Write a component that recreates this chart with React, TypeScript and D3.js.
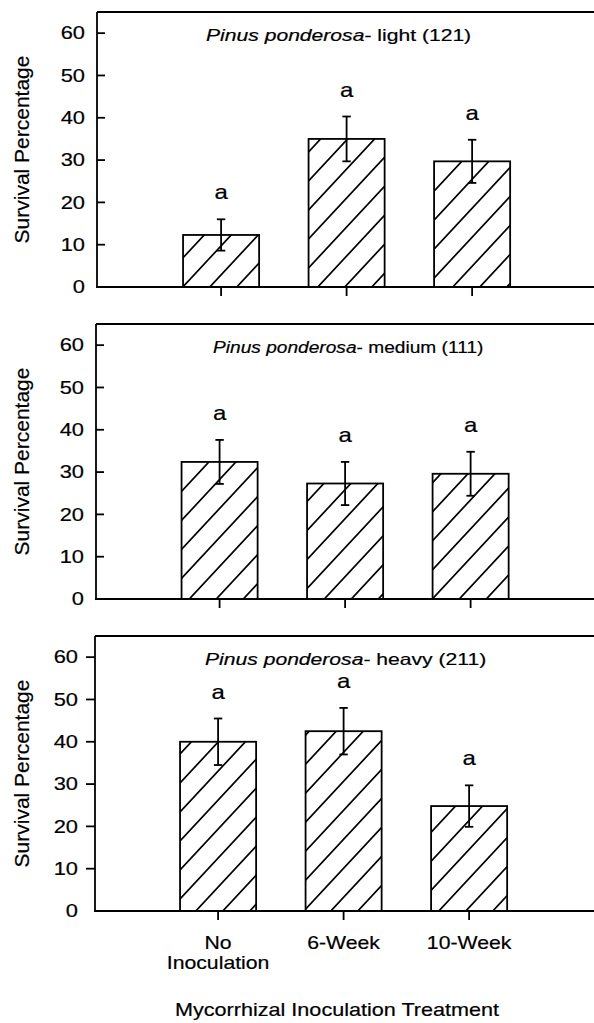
import React from "react";
import * as d3 from "d3";

// ---- data ----
const categories = ["No Inoculation", "6-Week", "10-Week"];
const categoryLines = [["No", "Inoculation"], ["6-Week"], ["10-Week"]];
const speciesName = "Pinus ponderosa";
const densityLabels = ["light (121)", "medium (111)", "heavy (211)"];
const lightMeans = [12.3, 35.0, 29.7];
const lightErrors = [3.7, 5.3, 5.1];
const mediumMeans = [32.4, 27.3, 29.6];
const mediumErrors = [5.2, 5.1, 5.2];
const heavyMeans = [40.0, 42.5, 24.8];
const heavyErrors = [5.5, 5.5, 4.9];
const lightLetters = ["a", "a", "a"];
const mediumLetters = ["a", "a", "a"];
const heavyLetters = ["a", "a", "a"];
const yTicks = [0, 10, 20, 30, 40, 50, 60];
const yMax = 65;
const yTitle = "Survival Percentage";
const xTitle = "Mycorrhizal Inoculation Treatment";

const panelMeans = [lightMeans, mediumMeans, heavyMeans];
const panelErrors = [lightErrors, mediumErrors, heavyErrors];
const panelLetters = [lightLetters, mediumLetters, heavyLetters];

// ---- layout ----
const W = 594;
const H = 1023;
const FONT = "'Liberation Sans', Arial, Helvetica, sans-serif";
const panelBase = [287, 599, 911];
const panelLeft = [97, 96, 95];
const panelShift = [0, -1.5, -3];
const tickInward = [true, true, false];
const titleStart = [206, 213, 205];
const titleScale = [1.28, 1.16, 1.28];
const plotH = 275;
const LW = 1.8;
const TS = { stroke: "#000", strokeWidth: 0.2 };

function Panel({ i }: { i: number }) {
  const base = panelBase[i];
  const left = panelLeft[i];
  const shift = panelShift[i];
  const y = d3.scaleLinear().domain([0, yMax]).range([base, base - plotH]);
  const x = d3
    .scaleBand<string>()
    .domain(categories)
    .range([133.6 + shift, 559.6 + shift])
    .paddingInner(0.394)
    .paddingOuter(0.394);
  const means = panelMeans[i];
  const errs = panelErrors[i];
  const letters = panelLetters[i];
  const top = y(yMax);
  const capW = 4.2;
  return (
    <g>
      {/* frame */}
      <line x1={left} x2={W} y1={top} y2={top} stroke="#000" strokeWidth={2} />
      <line x1={left} x2={left} y1={top} y2={base} stroke="#000" strokeWidth={LW} />
      <line x1={left - 1} x2={W} y1={base} y2={base} stroke="#000" strokeWidth={LW} />
      {/* y ticks */}
      {yTicks.map((t) => {
        const ty = y(t);
        const x1 = tickInward[i] ? left : left - 9;
        const x2 = tickInward[i] ? left + 8 : left;
        const lx = tickInward[i] ? left - 12 : left - 17;
        return (
          <g key={t}>
            {t > 0 && <line x1={x1} x2={x2} y1={ty} y2={ty} stroke="#000" strokeWidth={LW} />}
            <text
              transform={`translate(${lx},${ty + 6.3}) scale(1.25,1)`}
              textAnchor="end"
              fontFamily={FONT}
              fontSize={17.5}
              {...TS}
            >
              {t}
            </text>
          </g>
        );
      })}
      {/* bars */}
      {categories.map((c, j) => {
        const bx = x(c)!;
        const bw = x.bandwidth();
        const cx = bx + bw / 2;
        const v = means[j];
        const e = errs[j];
        return (
          <g key={c}>
            <rect
              x={bx}
              y={y(v)}
              width={bw}
              height={base - y(v)}
              fill="url(#hatch)"
              stroke="#000"
              strokeWidth={LW}
            />
            <line x1={cx} x2={cx} y1={y(v + e)} y2={y(v - e)} stroke="#000" strokeWidth={LW} />
            <line x1={cx - capW} x2={cx + capW} y1={y(v + e)} y2={y(v + e)} stroke="#000" strokeWidth={LW} />
            <line x1={cx - capW} x2={cx + capW} y1={y(v - e)} y2={y(v - e)} stroke="#000" strokeWidth={LW} />
            <line x1={cx} x2={cx} y1={base} y2={base + 9} stroke="#000" strokeWidth={LW} />
            <text
              transform={`translate(${cx},${y(v + e) - 20}) scale(1.2,1)`}
              textAnchor="middle"
              fontFamily={FONT}
              fontSize={20}
              {...TS}
            >
              {letters[j]}
            </text>
          </g>
        );
      })}
      {/* panel title */}
      <text
        transform={`translate(${titleStart[i]},${top + 29}) scale(${titleScale[i]},1)`}
        textAnchor="start"
        fontFamily={FONT}
        fontSize={16.5}
        {...TS}
      >
        <tspan fontStyle="italic">{speciesName}</tspan>
        <tspan>{"- " + densityLabels[i]}</tspan>
      </text>
      {/* y title */}
      <text
        transform={`translate(29,${(top + base) / 2}) rotate(-90)`}
        textAnchor="middle"
        fontFamily={FONT}
        fontSize={21}
        {...TS}
      >
        {yTitle}
      </text>
      {/* x labels on bottom panel */}
      {i === panelBase.length - 1 &&
        categories.map((c, j) => {
          const cx = x(c)! + x.bandwidth() / 2;
          return categoryLines[j].map((ln, k) => (
            <text
              key={c + k}
              transform={`translate(${cx},${base + 38 + k * 20}) scale(1.18,1)`}
              textAnchor="middle"
              fontFamily={FONT}
              fontSize={18}
              {...TS}
            >
              {ln}
            </text>
          ));
        })}
    </g>
  );
}

export default function App() {
  return (
    <svg
      width={W}
      height={H}
      viewBox={`0 0 ${W} ${H}`}
      style={{ position: "absolute", left: 0, top: 0, background: "#fff" }}
    >
      <defs>
        <pattern
          id="hatch"
          patternUnits="userSpaceOnUse"
          width={27}
          height={29}
          patternTransform="translate(-9,0)"
        >
          <path
            d="M0,29 L27,0 M-3,3 L3,-3 M24,32 L30,26"
            stroke="#000"
            strokeWidth={1.7}
            fill="none"
          />
        </pattern>
      </defs>
      <rect x={0} y={0} width={W} height={H} fill="#fff" />
      {panelBase.map((_, i) => (
        <Panel key={i} i={i} />
      ))}
      <text
        transform={`translate(337,1016) scale(1.2,1)`}
        textAnchor="middle"
        fontFamily={FONT}
        fontSize={18}
        {...TS}
      >
        {xTitle}
      </text>
    </svg>
  );
}
